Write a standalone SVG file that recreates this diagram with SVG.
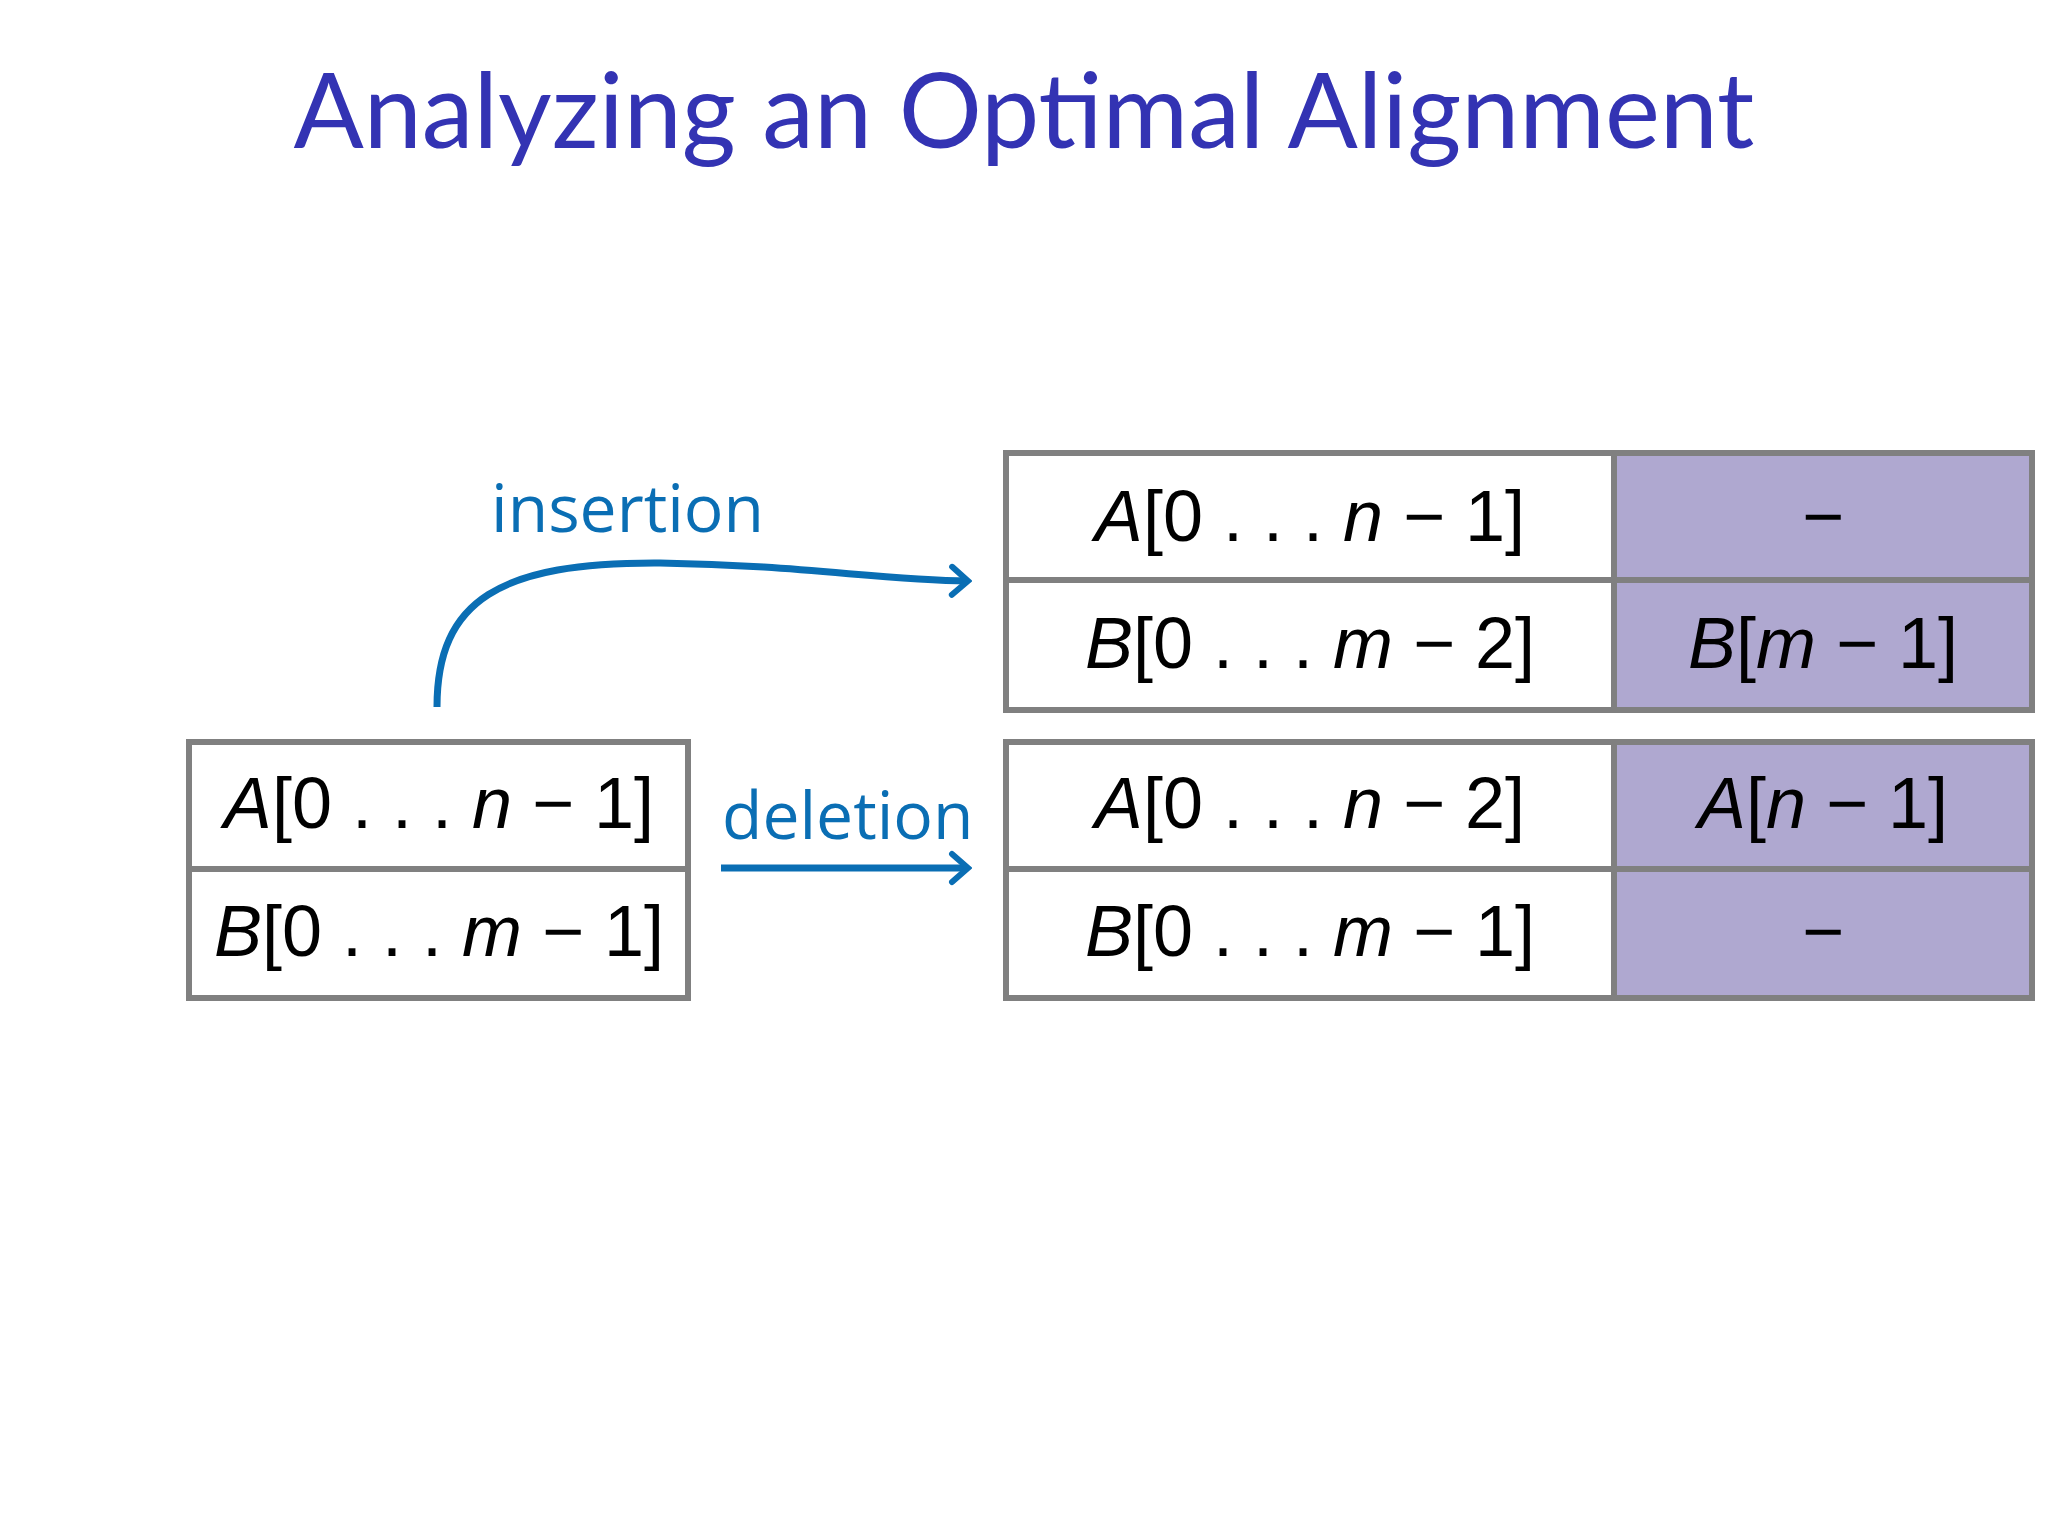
<svg xmlns="http://www.w3.org/2000/svg" width="2048" height="1536" viewBox="0 0 2048 1536">
<style>
.cell{fill:#fff;stroke:#808080;stroke-width:6}
.hl{fill:#afa8d0;stroke:#808080;stroke-width:6}
.t{font-family:"Liberation Sans","DejaVu Sans",sans-serif;font-size:72px;fill:#000;text-anchor:middle}
.i{font-style:italic}
.lbl{font-family:"Open Sans","DejaVu Sans",sans-serif;font-size:66px;fill:#0a6eb4}
.c{fill:none;stroke:#0a6eb4;stroke-width:7}
</style>
<defs><marker id="ah" markerWidth="24" markerHeight="36" refX="20" refY="18" orient="auto" markerUnits="userSpaceOnUse"><path d="M4 4 L20 18 L4 32" fill="none" stroke="#0a6eb4" stroke-width="6" stroke-linecap="round"/></marker></defs>
<rect width="2048" height="1536" fill="#fff"/>
<text x="1024" y="148" font-family="Lato,'Open Sans',sans-serif" font-size="104" fill="#3333b3" text-anchor="middle">Analyzing an Optimal Alignment</text>
<g id="left">
<rect class="cell" x="189" y="742" width="499" height="127"/>
<rect class="cell" x="189" y="869" width="499" height="129"/>
<text class="t" x="439" y="828"><tspan class="i">A</tspan>[0 . . . <tspan class="i">n</tspan> − 1]</text>
<text class="t" x="439" y="956"><tspan class="i">B</tspan>[0 . . . <tspan class="i">m</tspan> − 1]</text>
</g>
<g id="insert-result">
<rect class="cell" x="1006" y="453" width="608" height="127"/>
<rect class="hl" x="1614" y="453" width="418" height="127"/>
<rect class="cell" x="1006" y="580" width="608" height="130"/>
<rect class="hl" x="1614" y="580" width="418" height="130"/>
<text class="t" x="1310" y="541"><tspan class="i">A</tspan>[0 . . . <tspan class="i">n</tspan> − 1]</text>
<text class="t" x="1823" y="541">−</text>
<text class="t" x="1310" y="668"><tspan class="i">B</tspan>[0 . . . <tspan class="i">m</tspan> − 2]</text>
<text class="t" x="1823" y="668"><tspan class="i">B</tspan>[<tspan class="i">m</tspan> − 1]</text>
</g>
<g id="delete-result">
<rect class="cell" x="1006" y="742" width="608" height="127"/>
<rect class="hl" x="1614" y="742" width="418" height="127"/>
<rect class="cell" x="1006" y="869" width="608" height="129"/>
<rect class="hl" x="1614" y="869" width="418" height="129"/>
<text class="t" x="1310" y="828"><tspan class="i">A</tspan>[0 . . . <tspan class="i">n</tspan> − 2]</text>
<text class="t" x="1823" y="828"><tspan class="i">A</tspan>[<tspan class="i">n</tspan> − 1]</text>
<text class="t" x="1310" y="956"><tspan class="i">B</tspan>[0 . . . <tspan class="i">m</tspan> − 1]</text>
<text class="t" x="1823" y="956">−</text>
</g>
<g id="connectors">
<path class="c" d="M437 707 C437 600 500 562 660 563 C800 565 880 580 968 581" marker-end="url(#ah)"/>
<text class="lbl" x="491" y="532">insertion</text>
<path class="c" d="M721 868 L968 868" marker-end="url(#ah)"/>
<text class="lbl" x="722" y="839">deletion</text>
</g>
</svg>
